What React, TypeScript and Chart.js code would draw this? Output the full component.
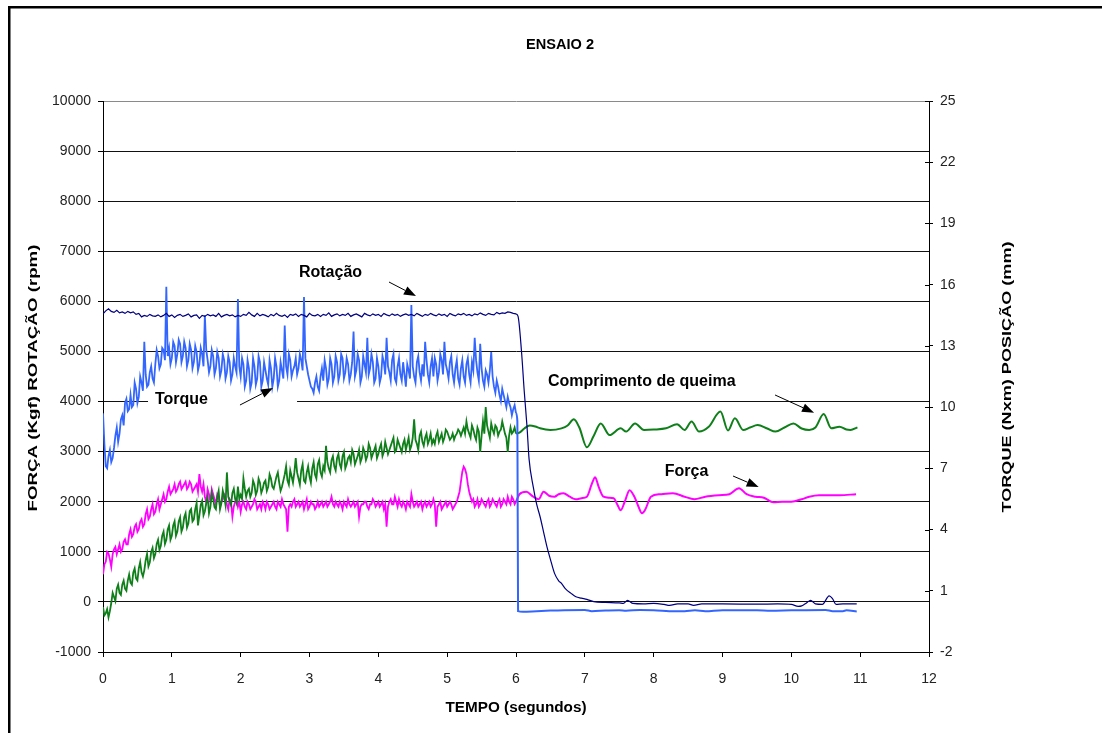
import React, { useEffect, useRef } from "react";
import { Chart, registerables } from "chart.js";

Chart.register(...registerables);

// ---------------- DATA ----------------
// Acquisition segment 0..6 s: main samples every 0.04 s (t = 0, 0.04, ...),
// intermediate samples every 0.04 s offset by 0.02 s (t = 0.02, 0.06, ...).
const SAMPLE_STEP = 0.04;
const MID_OFFSET = 0.02;

// Rotação (rpm) – left axis
const rotacaoNoisy = [
  5750, 5810, 5850, 5800, 5780, 5820, 5770, 5790, 5760, 5800,
  5770, 5790, 5740, 5760, 5690, 5720, 5700, 5740, 5710, 5700,
  5730, 5690, 5720, 5760, 5700, 5730, 5680, 5720, 5740, 5700,
  5720, 5750, 5690, 5720, 5730, 5660, 5720, 5700, 5740, 5710,
  5730, 5700, 5760, 5690, 5720, 5740, 5710, 5730, 5690, 5720,
  5700, 5740, 5720, 5780, 5730, 5700, 5760, 5710, 5740, 5720,
  5690, 5740, 5710, 5760, 5720, 5700, 5730, 5680, 5740, 5720,
  5750, 5700, 5740, 5720, 5690, 5760, 5720, 5710, 5740, 5700,
  5740, 5720, 5770, 5700, 5730, 5750, 5710, 5740, 5720, 5760,
  5700, 5730, 5750, 5720, 5690, 5760, 5730, 5710, 5750, 5720,
  5740, 5700, 5760, 5730, 5710, 5750, 5720, 5740, 5700, 5730,
  5750, 5720, 5740, 5710, 5760, 5730, 5700, 5740, 5720, 5760,
  5730, 5710, 5750, 5720, 5740, 5700, 5760, 5730, 5710, 5750,
  5730, 5760, 5720, 5740, 5710, 5750, 5730, 5770, 5740, 5720,
  5760, 5740, 5730, 5780, 5750, 5770, 5760, 5790, 5780, 5760,
  5750,
];
const rotacaoPostT = [
  6.0, 6.03, 6.08, 6.12, 6.16, 6.19, 6.25, 6.3, 6.35, 6.4,
  6.45, 6.5, 6.56, 6.62, 6.66, 6.72, 6.8, 6.87, 6.95, 7.03,
  7.13, 7.3, 7.5, 7.56, 7.62, 7.7, 7.85, 8.0, 8.15, 8.23,
  8.35, 8.5, 8.58, 8.7, 9.0, 9.5, 9.8, 10.0, 10.1, 10.15,
  10.22, 10.28, 10.35, 10.45, 10.55, 10.6, 10.65, 10.75, 10.95,
];
const rotacaoPostV = [
  5750, 5700, 5000, 4200, 3500, 2850, 2300, 1950, 1700, 1400,
  1100, 850, 570, 420, 370, 260, 170, 104, 75, 51,
  5, -10, -20, -30, 30, -30, -40, -30, -50, -70,
  -40, -40, -70, -40, -40, -45, -40, -50, -90, -80,
  -20, 30, -40, -50, 120, 60, -50, -40, -40,
];

// Torque (Nxm) – right axis
const torqueNoisy = [
  9.7, 7.1, 7.6, 7.3, 8.0, 9.0, 8.7, 9.6, 10.2, 9.8,
  10.6, 10.1, 10.9, 10.5, 11.2, 13.2, 11.0, 11.7, 11.4, 12.1,
  12.5, 12.1, 12.8, 15.9, 12.9, 12.4, 13.0, 12.6, 13.1, 12.5,
  12.9, 12.3, 12.8, 12.2, 12.7, 12.1, 12.6, 14.5, 12.3, 12.0,
  12.5, 11.9, 12.4, 11.8, 12.3, 11.7, 12.2, 11.6, 12.0, 15.3,
  11.5, 12.1, 11.3, 11.9, 11.2, 12.0, 11.4, 12.2, 11.3, 11.8,
  11.1, 11.9, 11.4, 12.0, 11.3, 11.8, 14.0, 11.6, 12.3, 11.8,
  12.4, 11.9, 12.3, 15.4, 12.0, 11.3, 10.9, 11.2, 11.0, 11.5,
  11.3, 11.9, 11.4, 12.1, 11.5, 12.2, 11.6, 12.4, 11.7, 12.1,
  11.6, 13.7, 11.8, 12.3, 11.5, 12.1, 13.4, 11.9, 12.2, 11.4,
  12.0, 11.5, 12.2, 13.4, 11.7, 12.3, 11.4, 12.0, 11.6, 12.2,
  11.0, 11.8, 15.0, 11.5, 12.2, 11.7, 12.1, 13.2, 11.6, 12.0,
  11.5, 12.1, 11.7, 12.3, 13.2, 11.8, 12.2, 11.6, 11.9, 11.4,
  11.9, 11.5, 12.1, 11.6, 12.2, 13.4, 11.7, 13.1, 11.3, 11.8,
  11.2, 12.7, 11.0, 11.3, 10.6, 10.9, 10.3, 10.5, 10.0, 9.9,
  9.7,
];
const torqueMid = [
  8.2, 7.0, 7.9, 7.5, 8.6, 8.3, 9.4, 9.1, 10.4, 9.9,
  10.0, 11.2, 10.2, 11.5, 10.8, 11.6, 11.1, 12.0, 11.2, 12.8,
  11.9, 12.9, 12.3, 12.5, 12.1, 13.2, 12.2, 13.3, 12.2, 13.2,
  12.0, 13.1, 11.9, 13.0, 11.8, 12.9, 12.0, 12.8, 11.7, 12.8,
  11.6, 12.7, 11.5, 12.6, 11.4, 12.5, 11.3, 12.4, 11.7, 12.0,
  12.4, 11.0, 12.3, 10.9, 12.4, 11.1, 12.5, 11.0, 12.2, 11.4,
  12.3, 11.0, 12.4, 11.0, 12.2, 11.4, 12.0, 12.6, 11.5, 12.0,
  11.6, 12.6, 11.8, 12.4, 11.6, 11.0, 10.7, 11.5, 10.8, 11.9,
  12.3, 11.1, 12.4, 11.2, 12.5, 11.3, 12.6, 11.4, 12.4, 11.3,
  12.2, 11.5, 12.6, 11.2, 12.5, 11.7, 11.6, 12.6, 11.2, 12.4,
  11.2, 12.5, 11.6, 12.0, 11.3, 12.6, 11.2, 12.4, 11.3, 11.6,
  12.1, 11.4, 12.0, 11.2, 12.5, 11.3, 11.5, 12.3, 11.2, 12.4,
  12.4, 11.3, 12.6, 11.6, 12.1, 11.4, 12.5, 11.2, 12.3, 11.1,
  12.3, 11.2, 12.4, 11.2, 11.8, 12.3, 11.3, 11.9, 11.0, 11.6,
  11.8, 11.5, 10.7, 11.0, 10.3, 10.6, 10.0, 10.2, 9.6, 10.1,
];
const torquePostT = [
  6.0, 6.02, 6.03, 6.1, 6.3, 6.5, 6.7, 7.0, 7.1, 7.3,
  7.5, 7.6, 7.8, 8.0, 8.3, 8.45, 8.6, 8.75, 9.0, 9.5,
  9.7, 10.0, 10.5, 10.6, 10.75, 10.8, 10.95,
];
const torquePostV = [
  9.7, 9.3, 0.0, -0.03, 0.0, 0.03, 0.05, 0.06, 0.0, 0.03,
  0.05, 0.02, 0.06, 0.05, 0.0, 0.0, 0.04, 0.0, 0.05, 0.05,
  0.02, 0.04, 0.06, 0.0, 0.0, 0.04, -0.02,
];

// Comprimento de queima / Posição (mm) – right axis
const posicaoNoisy = [
  0.2, -0.1, -0.3, 0.4, 0.7, 1.1, 0.9, 1.3, 1.1, 1.5,
  1.4, 1.9, 1.6, 2.1, 1.9, 2.0, 2.8, 2.4, 3.1, 2.8,
  3.5, 3.2, 3.9, 3.5, 4.2, 3.7, 4.4, 3.9, 4.6, 4.1,
  4.8, 4.3, 5.0, 4.5, 5.3, 4.7, 5.4, 4.9, 5.6, 5.1,
  5.5, 5.0, 5.9, 5.3, 5.6, 6.8, 5.4, 5.8, 5.5, 6.1,
  5.7, 6.5, 5.6, 6.0, 5.8, 6.2, 5.9, 6.3, 6.0, 6.4,
  6.1, 6.5, 6.0, 6.6, 6.3, 6.1, 6.7, 6.4, 6.9, 6.3,
  7.5, 6.5, 6.9, 6.4, 6.8, 6.6, 7.0, 6.7, 7.2, 6.8,
  7.1, 8.1, 7.0, 7.4, 7.1, 7.5, 7.2, 7.6, 7.0, 7.5,
  7.3, 7.7, 7.4, 7.9, 7.5, 7.8, 7.6, 8.0, 7.7, 8.1,
  7.7, 8.2, 7.8, 8.0, 7.9, 8.3, 7.8, 8.4, 8.0, 8.2,
  7.9, 8.5, 8.1, 9.4, 8.2, 8.6, 8.3, 8.5, 8.2, 8.7,
  8.4, 8.6, 8.3, 8.7, 8.5, 8.8, 8.4, 8.7, 8.6, 8.9,
  8.6, 9.0, 9.3, 8.7, 9.1, 8.6, 9.0, 7.8, 9.3, 10.0,
  8.8, 9.2, 8.7, 9.0, 8.8, 9.3, 8.7, 7.8, 9.0, 8.8,
  8.7,
];
const posicaoMid = [
  -0.2, 0.1, 0.0, 0.9, 0.5, 1.3, 0.8, 1.5, 1.0, 1.8,
  1.3, 2.1, 1.5, 2.4, 1.7, 2.5, 2.2, 2.9, 2.6, 3.3,
  3.0, 3.7, 3.3, 4.0, 3.5, 4.2, 3.7, 4.4, 3.9, 4.6,
  4.1, 4.9, 4.4, 5.0, 4.2, 5.2, 4.7, 5.3, 4.8, 5.8,
  5.1, 5.6, 5.0, 5.9, 5.2, 5.6, 5.2, 6.0, 5.3, 5.5,
  5.5, 6.0, 5.9, 5.6, 6.4, 5.7, 6.5, 5.8, 6.3, 5.9,
  6.7, 6.1, 6.3, 6.8, 5.9, 6.4, 7.1, 6.2, 6.6, 6.8,
  6.8, 6.2, 7.2, 6.3, 7.1, 6.3, 7.3, 6.5, 7.4, 6.6,
  6.9, 7.3, 6.8, 7.6, 6.9, 7.7, 7.0, 7.8, 7.2, 7.6,
  7.9, 7.2, 7.6, 7.3, 8.0, 7.4, 8.2, 7.5, 7.9, 7.5,
  8.0, 7.6, 8.3, 7.7, 8.1, 8.5, 7.9, 8.2, 7.8, 8.4,
  8.2, 7.9, 8.5, 8.4, 7.9, 8.8, 8.1, 8.7, 8.4, 8.2,
  8.2, 8.8, 8.5, 8.3, 8.9, 8.6, 8.5, 8.4, 8.7, 8.8,
  8.8, 8.7, 8.9, 8.5, 8.9, 8.4, 8.8, 8.6, 8.7, 9.1,
  8.5, 8.9, 9.1, 8.6, 8.9, 9.0, 8.5, 8.6, 8.7, 9.0,
];
const posicaoPostT = [
  6.0, 6.05, 6.12, 6.2, 6.28, 6.35, 6.5, 6.66, 6.75, 6.84,
  6.92, 7.03, 7.13, 7.23, 7.36, 7.52, 7.6, 7.73, 7.86, 8.0,
  8.18, 8.34, 8.45, 8.55, 8.66, 8.8, 8.97, 9.08, 9.18, 9.3,
  9.4, 9.51, 9.65, 9.77, 9.9, 10.03, 10.15, 10.26, 10.35, 10.47,
  10.58, 10.7, 10.8, 10.86, 10.96,
];
const posicaoPostV = [
  8.7, 8.75, 8.95, 9.1, 9.05, 8.96, 8.88, 8.96, 9.1, 9.4,
  9.0, 8.03, 8.6, 9.2, 8.63, 8.96, 8.8, 9.2, 8.88, 8.9,
  8.96, 9.16, 8.88, 9.29, 8.8, 9.04, 9.78, 8.85, 9.45, 8.88,
  9.0, 9.12, 8.95, 8.8, 9.0, 9.2, 8.95, 8.88, 9.0, 9.66,
  8.96, 9.04, 8.9, 8.88, 9.01,
];

// Força (Kgf) – left axis
const forcaNoisy = [
  550, 800, 970, 700, 1050, 950, 1150, 1050, 1250, 1150,
  1450, 1350, 1550, 1450, 1650, 1550, 1850, 1700, 1950, 1800,
  2050, 1950, 2150, 2050, 2300, 2200, 2350, 2250, 2400, 2300,
  2400, 2300, 2350, 2250, 2350, 2550, 2200, 2100, 2250, 2000,
  2150, 1950, 2100, 2000, 2150, 1950, 2050, 1700, 2000, 1900,
  1800, 2000, 1850, 1950, 1900, 2050, 1850, 1950, 2000, 1850,
  1950, 1900, 2000, 1850, 1950, 2050, 1900, 1400, 1950, 2000,
  1900, 2000, 1950, 1850, 2050, 1900, 1950, 1850, 2000, 1950,
  1900, 2000, 1950, 2100, 1900, 1950, 2000, 1850, 1950, 2050,
  1900, 2000, 1950, 1700, 1950, 2000, 1900, 1950, 2050, 1900,
  2000, 1950, 1850, 1500, 2000, 1950, 2100, 1900, 1950, 2000,
  1850, 1950, 2150, 1900, 2000, 1950, 1850, 2000, 1950, 1900,
  2050, 1500, 1950, 1850, 1950, 1900, 2000, 1850, 1950, 2100,
  2400, 2700, 2550, 2200, 2000, 1900, 2050, 1950, 2000, 1900,
  2050, 1950, 2000, 1900, 2050, 1950, 2000, 2100, 1950, 2050,
  2000,
];
const forcaMid = [
  750, 1000, 850, 950, 1100, 1050, 1000, 1200, 1150, 1350,
  1300, 1500, 1400, 1600, 1500, 1750, 1650, 1850, 1750, 1950,
  1850, 2050, 2000, 2200, 2150, 2250, 2200, 2350, 2250, 2350,
  2250, 2400, 2200, 2300, 2200, 2300, 2350, 2000, 2150, 2250,
  2050, 2150, 1900, 2050, 2100, 1850, 2000, 1900, 2050, 2000,
  1950, 1900, 2000, 1850, 1950, 2000, 1900, 1850, 1950, 2000,
  1850, 1950, 1900, 2000, 1900, 1950, 1850, 1900, 1900, 2050,
  1950, 1900, 2000, 1950, 1850, 2000, 1950, 1900, 1900, 2000,
  1950, 1900, 2000, 1950, 2000, 1900, 1950, 2000, 1900, 1950,
  1950, 1900, 2000, 1900, 1950, 2000, 1850, 1950, 2000, 1950,
  1900, 2000, 1950, 1900, 2050, 1950, 2000, 2050, 1900, 1950,
  2000, 1900, 2000, 1950, 1900, 2000, 1950, 1900, 2000, 1950,
  1950, 1900, 2000, 1900, 2000, 1950, 1950, 1900, 2000, 2200,
  2600, 2650, 2350, 2100, 2050, 1950, 1900, 2050, 1950, 2000,
  1900, 2050, 1950, 2000, 1900, 2050, 1950, 2000, 2100, 1950,
];
const forcaPostT = [
  6.0, 6.05, 6.15, 6.25, 6.33, 6.4, 6.48, 6.56, 6.62, 6.69,
  6.78, 6.87, 6.95, 7.03, 7.1, 7.15, 7.2, 7.27, 7.35, 7.42,
  7.47, 7.52, 7.58, 7.65, 7.72, 7.78, 7.83, 7.88, 7.96, 8.1,
  8.28, 8.45, 8.59, 8.75, 8.95, 9.1, 9.24, 9.35, 9.48, 9.6,
  9.74, 9.87, 10.0, 10.15, 10.26, 10.4, 10.52, 10.7, 10.94,
];
const forcaPostV = [
  2000, 2150, 2200, 2100, 2050, 2200, 2120, 2100, 2150, 2170,
  2100, 2050, 2070, 2100, 2350, 2490, 2300, 2100, 2080, 2070,
  1950, 1830, 2000, 2230, 2100, 1900, 1770, 1850, 2100, 2150,
  2170, 2100, 2050, 2100, 2130, 2150, 2270, 2150, 2100, 2080,
  1990, 2000, 2000, 2050, 2100, 2130, 2130, 2130, 2150,
];

// Axis ranges / ticks
const X_RANGE = [0, 12];
const LEFT_RANGE = [-1000, 10000];
const RIGHT_RANGE = [-2, 25];
const X_STEP = 1;
const LEFT_STEP = 1000;
const RIGHT_STEP = 3;

// Texts
const TITLE = "ENSAIO 2";
const X_TITLE = "TEMPO (segundos)";
const LEFT_TITLE = "FORÇA (Kgf) ROTAÇÃO (rpm)";
const RIGHT_TITLE = "TORQUE (Nxm) POSIÇÃO (mm)";

// Annotations (data coordinates: time, left-axis value)
const annotations = [
  { text: "Rotação", t: 3.305, v: 6566, from: [4.155, 6386], to: [4.547, 6107] },
  { text: "Torque", t: 1.14, v: 4041, from: [1.99, 3931], to: [2.47, 4270] },
  { text: "Comprimento de queima", t: 7.827, v: 4390, from: [9.763, 4131], to: [10.33, 3777] },
  { text: "Força", t: 8.477, v: 2593, from: [9.153, 2513], to: [9.525, 2294] },
];
// white box behind the "Torque" label (time range over the 4000 gridline)
const TORQUE_BOX = [0.654, 2.819, 4000];

// ---------------- HELPERS ----------------
function noisyPoints(main: number[], mid?: number[]) {
  const pts = main.map((v, i) => ({ x: +(i * SAMPLE_STEP).toFixed(2), y: v }));
  if (mid) {
    mid.forEach((v, i) => pts.push({ x: +(MID_OFFSET + i * SAMPLE_STEP).toFixed(2), y: v }));
  }
  pts.sort((a, b) => a.x - b.x);
  return pts;
}
function pairPoints(ts: number[], vs: number[]) {
  const n = Math.min(ts.length, vs.length);
  const out: { x: number; y: number }[] = [];
  for (let i = 0; i < n; i++) out.push({ x: ts[i], y: vs[i] });
  return out;
}

function drawFitted(
  ctx: CanvasRenderingContext2D,
  text: string,
  cx: number,
  cy: number,
  font: string,
  targetWidth: number | null,
  angle: number
) {
  ctx.save();
  ctx.font = font;
  ctx.translate(cx, cy);
  ctx.rotate(angle);
  const w = ctx.measureText(text).width;
  const k = targetWidth ? targetWidth / w : 1;
  ctx.scale(k, 1);
  ctx.fillStyle = "#000";
  ctx.textAlign = "center";
  ctx.textBaseline = "middle";
  ctx.fillText(text, 0, 0);
  ctx.restore();
}

function drawArrow(ctx: CanvasRenderingContext2D, x1: number, y1: number, x2: number, y2: number) {
  const ang = Math.atan2(y2 - y1, x2 - x1);
  const headLen = 12;
  const headHalf = 4.5;
  const bx = x2 - headLen * Math.cos(ang);
  const by = y2 - headLen * Math.sin(ang);
  ctx.save();
  ctx.strokeStyle = "#000";
  ctx.fillStyle = "#000";
  ctx.lineWidth = 1;
  ctx.beginPath();
  ctx.moveTo(x1, y1);
  ctx.lineTo(bx, by);
  ctx.stroke();
  ctx.beginPath();
  ctx.moveTo(x2, y2);
  ctx.lineTo(bx + headHalf * Math.sin(ang), by - headHalf * Math.cos(ang));
  ctx.lineTo(bx - headHalf * Math.sin(ang), by + headHalf * Math.cos(ang));
  ctx.closePath();
  ctx.fill();
  ctx.restore();
}

const FONT_FAMILY = "'Liberation Sans', Arial, Helvetica, sans-serif";

const overlayPlugin = {
  id: "overlay",
  beforeDraw(chart: any) {
    const { ctx, width, height } = chart;
    ctx.save();
    ctx.fillStyle = "#fff";
    ctx.fillRect(0, 0, width, height);
    ctx.restore();
  },
  beforeDatasetsDraw(chart: any) {
    const { ctx } = chart;
    const xs = chart.scales.x;
    const ys = chart.scales.y;
    const x0 = xs.getPixelForValue(TORQUE_BOX[0]);
    const x1 = xs.getPixelForValue(TORQUE_BOX[1]);
    const yc = ys.getPixelForValue(TORQUE_BOX[2]);
    ctx.save();
    ctx.fillStyle = "#fff";
    ctx.fillRect(x0, yc - 6, x1 - x0, 12);
    ctx.restore();
  },
  afterDraw(chart: any) {
    const { ctx } = chart;
    const xs = chart.scales.x;
    const ys = chart.scales.y;
    const y1 = chart.scales.y1;

    for (const a of annotations) {
      ctx.save();
      ctx.font = `bold 16px ${FONT_FAMILY}`;
      ctx.fillStyle = "#000";
      ctx.textAlign = "center";
      ctx.textBaseline = "middle";
      ctx.fillText(a.text, xs.getPixelForValue(a.t), ys.getPixelForValue(a.v));
      ctx.restore();
      drawArrow(
        ctx,
        xs.getPixelForValue(a.from[0]),
        ys.getPixelForValue(a.from[1]),
        xs.getPixelForValue(a.to[0]),
        ys.getPixelForValue(a.to[1])
      );
    }

    // inward part of the right axis tick marks
    ctx.save();
    ctx.strokeStyle = "#000";
    ctx.lineWidth = 1;
    for (const t of y1.ticks) {
      const py = Math.round(y1.getPixelForValue(t.value)) + 0.5;
      ctx.beginPath();
      ctx.moveTo(y1.left - 4, py);
      ctx.lineTo(y1.left, py);
      ctx.stroke();
    }
    ctx.restore();

    drawFitted(ctx, TITLE, 560, 45, `bold 14px ${FONT_FAMILY}`, 68, 0);
    drawFitted(ctx, X_TITLE, 516, 708, `bold 14px ${FONT_FAMILY}`, 141, 0);
    drawFitted(ctx, LEFT_TITLE, 33, 378, `bold 13px ${FONT_FAMILY}`, 267, -Math.PI / 2);
    drawFitted(ctx, RIGHT_TITLE, 1007, 377, `bold 13px ${FONT_FAMILY}`, 271, -Math.PI / 2);

    // outer frame (left and top edges)
    ctx.save();
    ctx.fillStyle = "#000";
    ctx.fillRect(8, 6, 1094, 2.5);
    ctx.fillRect(8, 6, 2.5, 727);
    ctx.restore();
  },
};

export default function App() {
  const canvasRef = useRef<HTMLCanvasElement | null>(null);

  useEffect(() => {
    const canvas = canvasRef.current;
    if (!canvas) return;

    const navy = "#000080";
    const blue = "#3366ff";
    const green = "#0f7f1a";
    const magenta = "#ff00ff";

    const base = { pointRadius: 0, pointHoverRadius: 0, fill: false, spanGaps: true };

    const chart = new Chart(canvas, {
      type: "line",
      data: {
        datasets: [
          { ...base, label: "Rotação", data: noisyPoints(rotacaoNoisy), yAxisID: "y", borderColor: navy, borderWidth: 1.2, tension: 0, order: 0 },
          { ...base, label: "Rotação (fim)", data: pairPoints(rotacaoPostT, rotacaoPostV), yAxisID: "y", borderColor: navy, borderWidth: 1.2, cubicInterpolationMode: "monotone", order: 0 },
          { ...base, label: "Torque", data: noisyPoints(torqueNoisy, torqueMid), yAxisID: "y1", borderColor: blue, borderWidth: 1.8, tension: 0, order: 1 },
          { ...base, label: "Torque (fim)", data: pairPoints(torquePostT, torquePostV), yAxisID: "y1", borderColor: blue, borderWidth: 2, cubicInterpolationMode: "monotone", order: 1 },
          { ...base, label: "Comprimento de queima", data: noisyPoints(posicaoNoisy, posicaoMid), yAxisID: "y1", borderColor: green, borderWidth: 1.8, tension: 0, order: 2 },
          { ...base, label: "Comprimento de queima (fim)", data: pairPoints(posicaoPostT, posicaoPostV), yAxisID: "y1", borderColor: green, borderWidth: 2, cubicInterpolationMode: "monotone", order: 2 },
          { ...base, label: "Força", data: noisyPoints(forcaNoisy, forcaMid), yAxisID: "y", borderColor: magenta, borderWidth: 1.8, tension: 0, order: 3 },
          { ...base, label: "Força (fim)", data: pairPoints(forcaPostT, forcaPostV), yAxisID: "y", borderColor: magenta, borderWidth: 2, cubicInterpolationMode: "monotone", order: 3 },
        ] as any,
      },
      options: {
        responsive: false,
        animation: false,
        devicePixelRatio: 1,
        layout: { padding: { top: 101, left: 0, right: 0, bottom: 0 } },
        plugins: {
          legend: { display: false },
          tooltip: { enabled: false },
          title: { display: false },
        },
        scales: {
          x: {
            type: "linear",
            min: X_RANGE[0],
            max: X_RANGE[1],
            ticks: {
              stepSize: X_STEP,
              padding: 14,
              color: "#222",
              font: { family: FONT_FAMILY, size: 14 },
              maxRotation: 0,
            },
            grid: { drawOnChartArea: false, tickLength: 5, color: "#000", tickColor: "#000" },
            border: { color: "#000", width: 1 },
            afterFit: (s: any) => {
              s.height = 81;
            },
          },
          y: {
            type: "linear",
            position: "left",
            min: LEFT_RANGE[0],
            max: LEFT_RANGE[1],
            ticks: {
              stepSize: LEFT_STEP,
              padding: 7,
              color: "#222",
              font: { family: FONT_FAMILY, size: 14 },
              callback: (v: any) => String(v),
            },
            grid: {
              color: (c: any) => (c.tick && c.tick.value === LEFT_RANGE[1] ? "#8a8a8a" : "#111"),
              tickColor: "#000",
              tickLength: 5,
              lineWidth: 1,
            },
            border: { color: "#000", width: 1 },
            afterFit: (s: any) => {
              s.width = 103;
            },
          },
          y1: {
            type: "linear",
            position: "right",
            min: RIGHT_RANGE[0],
            max: RIGHT_RANGE[1],
            ticks: {
              stepSize: RIGHT_STEP,
              padding: 7,
              color: "#222",
              font: { family: FONT_FAMILY, size: 14 },
              callback: (v: any) => String(v),
            },
            grid: { drawOnChartArea: false, tickLength: 4, color: "#000", tickColor: "#000" },
            border: { color: "#000", width: 1 },
            afterFit: (s: any) => {
              s.width = 173;
            },
          },
        },
      } as any,
      plugins: [overlayPlugin],
    });

    return () => {
      chart.destroy();
    };
  }, []);

  return (
    <div style={{ position: "fixed", left: 0, top: 0, width: 1102, height: 733, background: "#fff" }}>
      <canvas ref={canvasRef} width={1102} height={733} style={{ display: "block", width: 1102, height: 733 }} />
    </div>
  );
}
